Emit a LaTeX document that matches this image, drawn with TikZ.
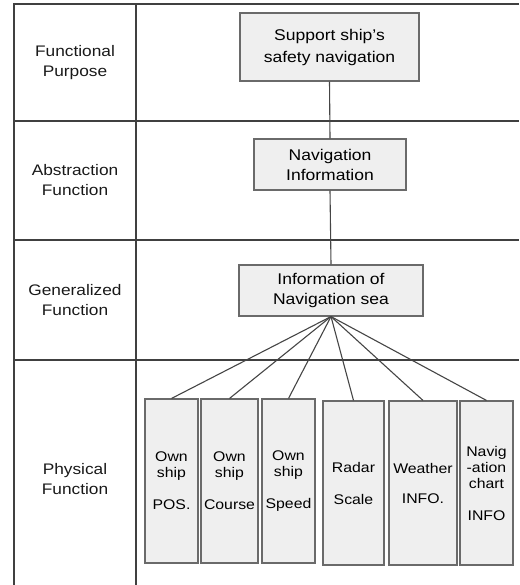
\documentclass[tikz,border=0pt]{standalone}
\usepackage{fontspec}
\setmainfont{Liberation Sans}[FakeStretch=1.13]
\definecolor{gridc}{HTML}{404040}
\definecolor{boxfill}{HTML}{EFEFEF}
\definecolor{boxline}{HTML}{6A6A6A}
\definecolor{linkc}{HTML}{454545}
\begin{document}
\begin{tikzpicture}[x=1pt,y=-1pt,
  gridline/.style={draw=gridc,line width=1.3pt},
  rowlabel/.style={align=center,inner sep=0pt,font=\fontsize{15.3}{20}\selectfont,text=black!90},
  topbox/.style={draw=boxline,fill=boxfill,line width=1.1pt,align=center,inner sep=0pt,
    font=\fontsize{15.5}{20}\selectfont},
  physbox/.style={draw=boxline,fill=boxfill,line width=1.1pt,align=center,inner sep=0pt,
    minimum height=164pt,font=\fontsize{14}{16}\selectfont},
  link/.style={draw=linkc,line width=1.1pt}]
\useasboundingbox (0,0) rectangle (519,585);
% grid
\draw[gridline] (14,585) -- (14,4) -- (519,4);
\draw[gridline] (136,4) -- (136,585);
\draw[gridline] (14,121) -- (519,121);
\draw[gridline] (14,240) -- (519,240);
\draw[gridline] (14,360) -- (519,360);
% row labels
\node[rowlabel] (lfp) at (75,63) {Functional\\Purpose};
\node[rowlabel] (laf) at (75,180) {Abstraction\\Function};
\node[rowlabel] (lgf) at (75,300) {Generalized\\Function};
\node[rowlabel] (lpf) at (75,479) {Physical\\Function};
% upper boxes
\node[topbox,minimum width=179pt,minimum height=68pt,font=\fontsize{15.5}{22}\selectfont] (purpose) at (329.5,47) {Support ship's\\safety navigation};
\node[topbox,minimum width=152pt,minimum height=51pt] (navinfo) at (330,164.5) {Navigation\\Information};
\node[topbox,minimum width=184pt,minimum height=51pt] (navsea) at (331,290.5) {Information of\\Navigation sea};
% physical boxes
\node[physbox,minimum width=53pt] (pos) at (171.5,481) {Own\\ship\\[16pt]POS.};
\node[physbox,minimum width=57pt] (course) at (229.5,481) {Own\\ship\\[16pt]Course};
\node[physbox,minimum width=53pt] (speed) at (288.5,481) {Own\\ship\\[16pt]Speed};
\node[physbox,minimum width=61pt] (radar) at (353.5,483) {Radar\\[16pt]Scale};
\node[physbox,minimum width=68pt] (weather) at (423,483) {Weather\\[14pt]INFO.};
\node[physbox,minimum width=53pt] (chart) at (486.5,483) {Navig\\-ation\\chart\\[16pt]INFO};
% connectors
\draw[link] (purpose.south) -- (navinfo.north);
\draw[link] (navinfo.south) -- (navsea.north);
\foreach \b in {pos,course,speed,radar,weather,chart}
  \draw[link] (navsea.south) -- (\b.north);
\end{tikzpicture}
\end{document}
